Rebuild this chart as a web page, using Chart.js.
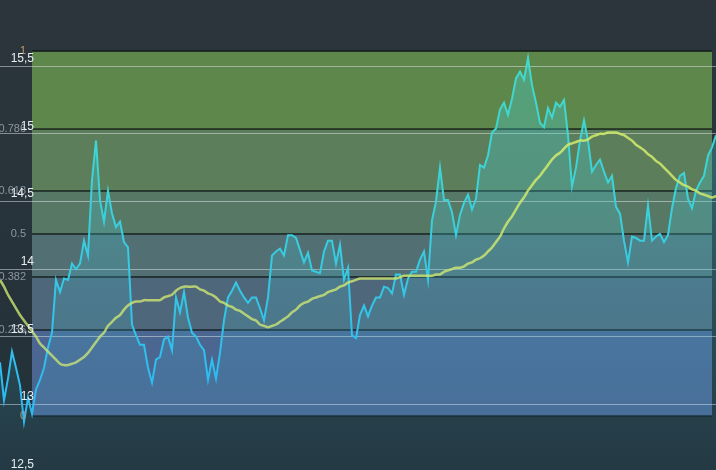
<!DOCTYPE html>
<html>
<head>
<meta charset="utf-8">
<style>
  html, body { margin: 0; padding: 0; background: #273239; overflow: hidden; }
  #wrap { width: 716px; height: 480px; }
</style>
<script src="https://cdn.jsdelivr.net/npm/chart.js@4.4.1/dist/chart.umd.min.js"></script>
</head>
<body>
<div id="wrap"><canvas id="myChart" width="716" height="480"></canvas></div>
<script>
// closing prices, one per session
const priceValues = [
  13.31, 13.03, 13.19, 13.39, 13.27, 13.14, 12.87, 13.05, 12.93, 13.11,
  13.18, 13.27, 13.42, 13.53, 13.92, 13.83, 13.93, 13.92, 14.04, 14.00,
  14.04, 14.21, 14.10, 14.66, 14.95, 14.51, 14.35, 14.58, 14.41, 14.31,
  14.35, 14.20, 14.16, 13.59, 13.51, 13.44, 13.44, 13.27, 13.16, 13.33,
  13.35, 13.48, 13.50, 13.40, 13.79, 13.68, 13.83, 13.64, 13.53, 13.50,
  13.44, 13.40, 13.18, 13.33, 13.19, 13.38, 13.62, 13.79, 13.84, 13.90,
  13.84, 13.79, 13.75, 13.79, 13.79, 13.71, 13.62, 13.79, 14.10, 14.13,
  14.15, 14.10, 14.25, 14.25, 14.23, 14.14, 14.05, 14.12, 13.99, 13.98,
  13.97, 14.13, 14.21, 14.21, 14.04, 14.18, 13.92, 14.01, 13.51, 13.49,
  13.66, 13.73, 13.65, 13.73, 13.79, 13.79, 13.87, 13.86, 13.82, 13.96,
  13.96, 13.81, 13.93, 13.98, 13.98, 14.07, 14.13, 13.92, 14.36, 14.50,
  14.75, 14.51, 14.51, 14.42, 14.25, 14.40, 14.49, 14.55, 14.44, 14.52,
  14.77, 14.75, 14.84, 15.01, 15.04, 15.18, 15.23, 15.14, 15.26, 15.41,
  15.46, 15.40, 15.56, 15.36, 15.23, 15.08, 15.05, 15.19, 15.12, 15.23,
  15.20, 15.25, 14.99, 14.61, 14.75, 14.95, 15.10, 14.95, 14.72, 14.77,
  14.81, 14.72, 14.64, 14.69, 14.46, 14.41, 14.21, 14.05, 14.24, 14.23,
  14.21, 14.21, 14.47, 14.21, 14.24, 14.26, 14.20, 14.25, 14.45, 14.60,
  14.69, 14.71, 14.52, 14.45, 14.58, 14.64, 14.69, 14.84, 14.90, 14.99
];

// moving average of the price
const maValues = [
  13.92, 13.87, 13.81, 13.76, 13.71, 13.66, 13.62, 13.58, 13.54, 13.50,
  13.45, 13.42, 13.39, 13.36, 13.33, 13.30, 13.29, 13.29, 13.30, 13.31,
  13.33, 13.35, 13.38, 13.42, 13.46, 13.50, 13.53, 13.58, 13.61, 13.64,
  13.66, 13.70, 13.73, 13.75, 13.76, 13.76, 13.77, 13.77, 13.77, 13.77,
  13.77, 13.79, 13.80, 13.81, 13.84, 13.86, 13.87, 13.87, 13.87, 13.87,
  13.85, 13.84, 13.82, 13.81, 13.79, 13.76, 13.75, 13.73, 13.72, 13.70,
  13.69, 13.67, 13.65, 13.63, 13.62, 13.59, 13.58, 13.57, 13.58, 13.59,
  13.61, 13.63, 13.65, 13.68, 13.70, 13.73, 13.75, 13.76, 13.78, 13.79,
  13.80, 13.81, 13.83, 13.84, 13.85, 13.87, 13.88, 13.90, 13.91, 13.92,
  13.93, 13.93, 13.93, 13.93, 13.93, 13.93, 13.93, 13.93, 13.93, 13.93,
  13.94, 13.95, 13.95, 13.95, 13.95, 13.95, 13.95, 13.95, 13.95, 13.96,
  13.96, 13.98, 13.99, 14.00, 14.01, 14.01, 14.02, 14.04, 14.05, 14.07,
  14.08, 14.10, 14.13, 14.16, 14.20, 14.24, 14.30, 14.35, 14.39, 14.44,
  14.49, 14.53, 14.58, 14.62, 14.66, 14.69, 14.73, 14.77, 14.81, 14.84,
  14.86, 14.89, 14.92, 14.93, 14.94, 14.95, 14.95, 14.96, 14.98, 14.99,
  15.00, 15.00, 15.01, 15.01, 15.01, 15.00, 14.99, 14.97, 14.95, 14.92,
  14.90, 14.88, 14.85, 14.83, 14.80, 14.78, 14.75, 14.72, 14.69, 14.66,
  14.64, 14.62, 14.61, 14.59, 14.58, 14.56, 14.55, 14.54, 14.53, 14.54
];

const sessions = priceValues.map((_, i) => i + 1);

const yTicks = [12.5, 13, 13.5, 14, 14.5, 15, 15.5];
const yTickLabels = ["12,5", "13", "13,5", "14", "14,5", "15", "15,5"];

// fibonacci retracement between swing low and swing high
const fibLow = 12.913;
const fibHigh = 15.61;
const fibStartIdx = 8;
const fibEndIdx = 178;
const fibLevels = [0, 0.236, 0.382, 0.5, 0.618, 0.786, 1];
const fibLabels = ["0", "0.236", "0.382", "0.5", "0.618", "0.786", "1"];
const bandColors = ['#4a6691', '#4f677a', '#526f74', '#587866', '#5c7e5b', '#5e874b'];

const fibPrice = l => fibLow + (fibHigh - fibLow) * l;

const fibPlugin = {
    id: 'fib',
    beforeDraw(chart) {
        const { ctx, width, height } = chart;
        const x = chart.scales.x, y = chart.scales.y;
        ctx.save();
        const bg = ctx.createLinearGradient(0, 0, 0, height);
        bg.addColorStop(0, '#2c353c');
        bg.addColorStop(1, '#223139');
        ctx.fillStyle = bg;
        ctx.fillRect(0, 0, width, height);

        const left = x.getPixelForValue(fibStartIdx);
        const right = x.getPixelForValue(fibEndIdx);
        for (let i = 0; i < fibLevels.length - 1; i++) {
            const top = y.getPixelForValue(fibPrice(fibLevels[i + 1]));
            const bot = y.getPixelForValue(fibPrice(fibLevels[i]));
            ctx.fillStyle = bandColors[i];
            ctx.fillRect(left, top, right - left, bot - top);
        }
        ctx.strokeStyle = 'rgba(12,18,16,0.6)';
        ctx.lineWidth = 2;
        fibLevels.forEach(l => {
            const py = Math.round(y.getPixelForValue(fibPrice(l)));
            ctx.beginPath();
            ctx.moveTo(left, py);
            ctx.lineTo(right, py);
            ctx.stroke();
        });
        ctx.restore();
    },
    afterDraw(chart) {
        const { ctx } = chart;
        const y = chart.scales.y;
        ctx.save();
        ctx.textAlign = 'right';
        ctx.textBaseline = 'middle';
        ctx.font = '11px "Liberation Sans", Arial, sans-serif';
        fibLevels.forEach((l, i) => {
            ctx.fillStyle = l === 1 ? '#c09a60' : (l === 0 ? '#a89c8c' : '#8e979e');
            ctx.fillText(fibLabels[i], 26, y.getPixelForValue(fibPrice(l)));
        });
        ctx.textBaseline = 'alphabetic';
        ctx.font = '12px "Liberation Sans", Arial, sans-serif';
        ctx.fillStyle = '#e8edf0';
        yTicks.forEach((v, i) => {
            ctx.fillText(yTickLabels[i], 34, y.getPixelForValue(v) - 4);
        });
        ctx.restore();
    }
};

function priceStroke(context) {
    const area = context.chart.chartArea;
    if (!area) return '#36cde0';
    const g = context.chart.ctx.createLinearGradient(0, area.top, 0, area.bottom);
    g.addColorStop(0, '#44dec4');
    g.addColorStop(0.45, '#3ad0dc');
    g.addColorStop(0.8, '#2cbcf2');
    g.addColorStop(1, '#28b4f6');
    return g;
}

function priceFill(context) {
    const area = context.chart.chartArea;
    if (!area) return 'rgba(60,200,210,0.2)';
    const g = context.chart.ctx.createLinearGradient(0, area.top, 0, area.bottom);
    g.addColorStop(0, 'rgba(70,212,205,0.42)');
    g.addColorStop(1, 'rgba(60,190,230,0.05)');
    return g;
}

function maStroke(context) {
    const area = context.chart.chartArea;
    if (!area) return 'rgba(205,232,100,0.85)';
    const g = context.chart.ctx.createLinearGradient(0, area.top, 0, area.bottom);
    g.addColorStop(0, 'rgba(208,236,98,0.95)');
    g.addColorStop(1, 'rgba(205,228,125,0.7)');
    return g;
}

new Chart(document.getElementById('myChart').getContext('2d'), {
    type: 'line',
    data: {
        labels: sessions,
        datasets: [
            {
                data: maValues,
                borderColor: maStroke,
                borderWidth: 2.5,
                pointRadius: 0,
                tension: 0.3,
                fill: false,
                order: 0
            },
            {
                data: priceValues,
                borderColor: priceStroke,
                backgroundColor: priceFill,
                borderWidth: 2,
                pointRadius: 0,
                tension: 0,
                fill: 'start',
                order: 1
            }
        ]
    },
    options: {
        responsive: false,
        animation: false,
        devicePixelRatio: 1,
        layout: { padding: 0 },
        plugins: {
            legend: { display: false },
            tooltip: { enabled: false }
        },
        scales: {
            x: {
                type: 'category',
                display: false,
                offset: false
            },
            y: {
                min: 12.44,
                max: 15.99,
                afterBuildTicks: scale => {
                    scale.ticks = yTicks.map(v => ({ value: v }));
                },
                ticks: { display: false },
                border: { display: false },
                grid: {
                    color: 'rgba(225,232,236,0.5)',
                    lineWidth: 1,
                    drawTicks: false
                }
            }
        }
    },
    plugins: [fibPlugin]
});
</script>
</body>
</html>
